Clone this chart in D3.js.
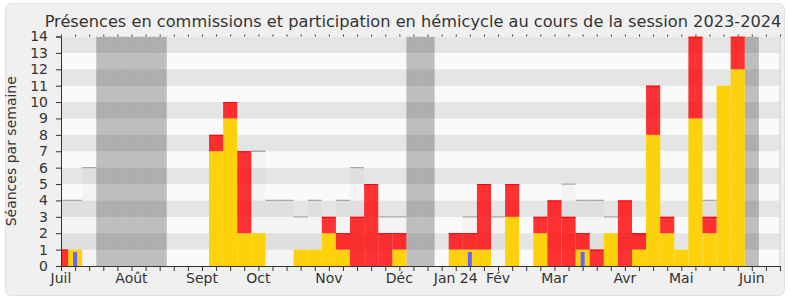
<!DOCTYPE html>
<html>
<head>
<meta charset="utf-8">
<script src="https://cdn.jsdelivr.net/npm/d3@7"></script>
<style>
  body { margin: 0; background: #fff; }
  svg { display: block; font-family: "DejaVu Sans", sans-serif; }
</style>
</head>
<body>
<script>
// one entry per week, week 0 = first week of July 2023
const weeks = d3.range(52);

// yellow: présences en commission
const commission = [0, 1, 0, 0, 0, 0, 0, 0, 0, 0, 0, 7, 9, 2, 2, 0, 0, 1, 1, 2,
                    1, 0, 0, 0, 1, 0, 0, 0, 1, 1, 1, 0, 3, 0, 2, 0, 0, 1, 0, 2,
                    0, 1, 8, 2, 1, 9, 2, 11, 12, 0, 0, 0];
// red: participation en hémicycle (stacked above)
const hemicycle = [1, 0, 0, 0, 0, 0, 0, 0, 0, 0, 0, 1, 1, 5, 0, 0, 0, 0, 0, 1,
                   1, 3, 5, 2, 1, 0, 0, 0, 1, 1, 4, 0, 2, 0, 1, 4, 3, 1, 1, 0,
                   4, 1, 3, 1, 0, 5, 1, 0, 2, 0, 0, 0];
// grey: médiane des députés
const mediane = [4, 4, 6, 0, 0, 0, 0, 0, 0, 0, 0, 0, 0, 0, 7, 4, 4, 3, 4, 0,
                 4, 6, 0, 3, 3, 0, 0, 0, 0, 3, 0, 3, 0, 0, 0, 0, 5, 4, 4, 3,
                 0, 0, 0, 0, 0, 0, 4, 0, 0, 0, 0, 0];
// blue: questions orales
const questions = [{week: 1, value: 0.85}, {week: 29, value: 0.85}, {week: 37, value: 0.85}];

// vacances parlementaires
const vacances = [3, 4, 5, 6, 7, 25, 26, 49];

const monthLabels = ["Juil", "Août", "Sept", "Oct", "Nov", "Déc", "Jan 24", "Fév", "Mar", "Avr", "Mai", "Juin"];
const monthWeeks = [0, 5, 10, 14, 19, 24, 28, 31, 35, 40, 44, 49];

const width = 790, height = 300;
const margin = {top: 36.5, right: 10, bottom: 34, left: 61};

const svg = d3.select("body").append("svg")
  .attr("width", width)
  .attr("height", height);

// frame
svg.append("rect")
  .attr("x", 5.5).attr("y", 3.5)
  .attr("width", 779).attr("height", 292)
  .attr("rx", 6)
  .style("fill", "#f0f0f0")
  .style("stroke", "#e0e0e0");

const x = d3.scaleLinear().domain([0, 51]).range([margin.left, width - margin.right]);
const y = d3.scaleLinear().domain([0, 14]).range([height - margin.bottom, margin.top]);
const w = x(1) - x(0);

svg.append("clipPath").attr("id", "plot")
  .append("rect")
  .attr("x", x(0)).attr("y", y(14))
  .attr("width", x(51) - x(0)).attr("height", y(0) - y(14));

const plot = svg.append("g").attr("clip-path", "url(#plot)");

// horizontal stripes
plot.selectAll("rect.stripe")
  .data(d3.range(14))
  .enter().append("rect")
  .attr("class", "stripe")
  .attr("x", x(0))
  .attr("width", x(51) - x(0))
  .attr("y", d => y(d + 1))
  .attr("height", d => y(d) - y(d + 1))
  .style("fill", d => d % 2 ? "#e5e5e5" : "#fafafa");

// median bars
const med = plot.selectAll("g.med")
  .data(weeks.filter(i => mediane[i] > 0))
  .enter().append("g");
med.append("rect")
  .attr("x", i => x(i) - w / 2)
  .attr("width", w)
  .attr("y", i => y(mediane[i]))
  .attr("height", i => y(0) - y(mediane[i]))
  .style("fill", "#000")
  .style("fill-opacity", 0.025);
med.append("line")
  .attr("x1", i => x(i) - w / 2)
  .attr("x2", i => x(i) + w / 2)
  .attr("y1", i => y(mediane[i]))
  .attr("y2", i => y(mediane[i]))
  .style("stroke", "#aaa")
  .style("stroke-width", 1.3);

// vacances
plot.selectAll("rect.vac")
  .data(vacances)
  .enter().append("rect")
  .attr("class", "vac")
  .attr("x", d => x(d) - w / 2)
  .attr("width", w)
  .attr("y", y(14))
  .attr("height", y(0) - y(14))
  .style("fill", "#000")
  .style("fill-opacity", 0.24);

// commission bars
plot.selectAll("rect.com")
  .data(weeks.filter(i => commission[i] > 0))
  .enter().append("rect")
  .attr("class", "com")
  .attr("x", i => x(i) - w / 2)
  .attr("width", w)
  .attr("y", i => y(commission[i]))
  .attr("height", i => y(0) - y(commission[i]))
  .style("fill", "#fdd20b");

// hemicycle bars
const hem = plot.selectAll("g.hem")
  .data(weeks.filter(i => hemicycle[i] > 0))
  .enter().append("g");
hem.append("rect")
  .attr("x", i => x(i) - w / 2)
  .attr("width", w)
  .attr("y", i => y(commission[i] + hemicycle[i]))
  .attr("height", i => y(commission[i]) - y(commission[i] + hemicycle[i]))
  .style("fill", "#ff0000")
  .style("fill-opacity", 0.8);
hem.append("line")
  .attr("x1", i => x(i) - w / 2)
  .attr("x2", i => x(i) + w / 2)
  .attr("y1", i => y(commission[i] + hemicycle[i]) + 0.5)
  .attr("y2", i => y(commission[i] + hemicycle[i]) + 0.5)
  .style("stroke", "#ff0000")
  .style("stroke-width", 1);

// questions
plot.selectAll("rect.q")
  .data(questions)
  .enter().append("rect")
  .attr("x", d => x(d.week) - 2)
  .attr("width", 4)
  .attr("y", d => y(d.value))
  .attr("height", d => y(0) - y(d.value))
  .style("fill", "#6464ff");

// right border
svg.append("line")
  .attr("x1", x(51)).attr("x2", x(51))
  .attr("y1", y(14)).attr("y2", y(0))
  .style("stroke", "#d0d0d0");

// axes
const yAxis = svg.append("g")
  .attr("transform", `translate(${x(0)},0)`)
  .call(d3.axisLeft(y).tickValues(d3.range(15)).tickSize(5).tickPadding(8));

const xAxis = svg.append("g")
  .attr("transform", `translate(0,${y(0)})`)
  .call(d3.axisBottom(x).tickValues(weeks).tickSize(5).tickFormat(""));

const topTicks = svg.append("g")
  .attr("transform", `translate(0,${y(14)})`)
  .call(d3.axisTop(x).tickValues(weeks).tickSize(2).tickSizeOuter(0).tickFormat(""));
topTicks.select(".domain").remove();

svg.selectAll(".domain, .tick line").style("stroke", "#333");
yAxis.selectAll("text").style("font-size", "14px").style("fill", "#333")
  .style("font-family", "DejaVu Sans");

svg.append("g").selectAll("text")
  .data(monthLabels)
  .enter().append("text")
  .attr("x", (d, i) => x(monthWeeks[i]))
  .attr("y", 283)
  .attr("text-anchor", "middle")
  .style("font-size", "14px")
  .style("fill", "#333")
  .text(d => d);

// title
svg.append("text")
  .attr("x", 413)
  .attr("y", 27)
  .attr("text-anchor", "middle")
  .style("font-size", "16.2px")
  .style("fill", "#333")
  .text("Présences en commissions et participation en hémicycle au cours de la session 2023-2024");

svg.append("text")
  .attr("transform", `translate(16,${(y(0) + y(14)) / 2}) rotate(-90)`)
  .attr("text-anchor", "middle")
  .style("font-size", "14px")
  .style("fill", "#333")
  .text("Séances par semaine");
</script>
</body>
</html>
